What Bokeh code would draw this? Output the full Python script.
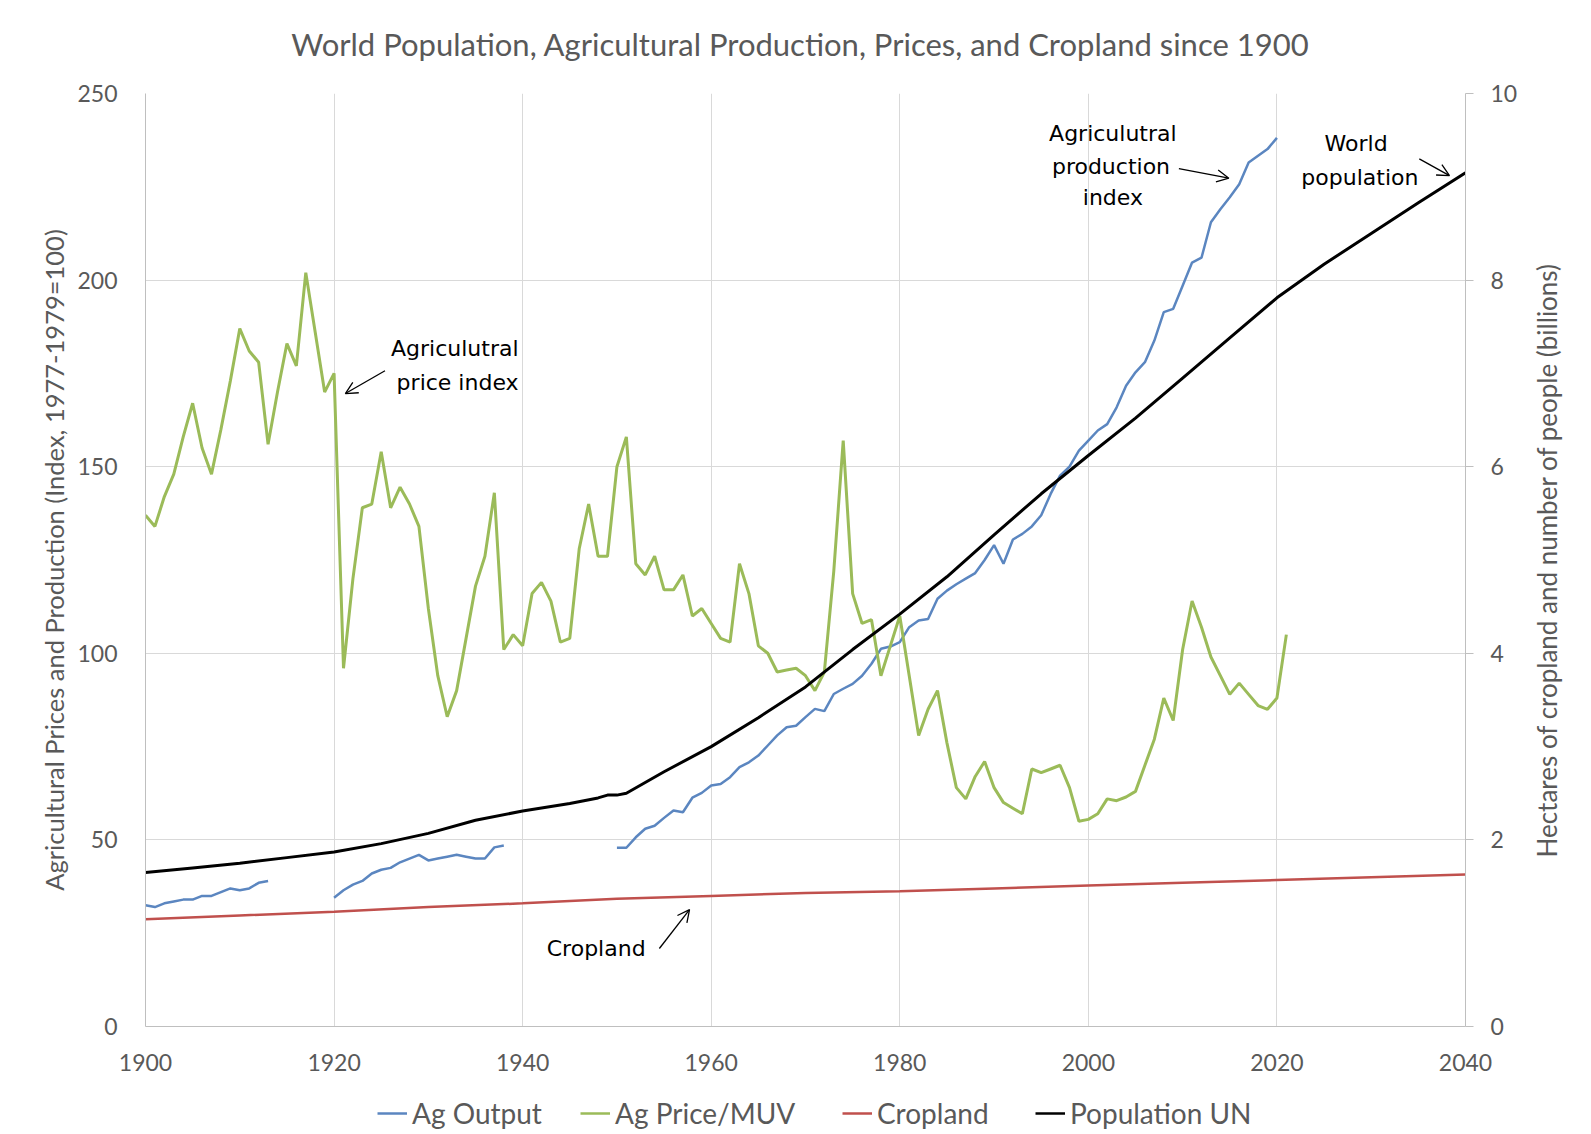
import math
from bokeh.plotting import figure
from bokeh.layouts import column, row
from bokeh.models import Range1d, LinearAxis, Legend, LegendItem, Label, Arrow, OpenHead, FixedTicker
from bokeh.embed import file_html
from bokeh.resources import INLINE

# ---------------- data ----------------
price_years = list(range(1900, 2022))
price = [137, 134, 142, 148, 158, 167, 155, 148, 160, 173,
         187, 181, 178, 156, 170, 183, 177, 202, 186, 170,
         175, 96, 120, 139, 140, 154, 139, 144.5, 140, 134,
         112, 94, 83, 90, 104, 118, 126, 143, 101, 105,
         102, 116, 119, 114, 103, 104, 128, 140, 126, 126,
         150, 158, 124, 121, 126, 117, 117, 121, 110, 112,
         108, 104, 103, 124, 116, 102, 100, 95, 95.5, 96,
         94, 90, 95, 122, 157, 116, 108, 109, 94, 102,
         110, 94, 78, 85, 90, 76, 64, 61, 67, 71,
         64, 60, 58.5, 57, 69, 68, 69, 70, 64, 55,
         55.5, 57, 61, 60.5, 61.5, 63, 70, 77, 88, 82,
         101, 114, 107, 99, 94, 89, 92, 89, 86, 85,
         88, 105]

out_years_1 = list(range(1900, 1914))
out_1 = [32.5, 32, 33, 33.5, 34, 34, 35, 35, 36, 37, 36.5, 37, 38.5, 39]

out_years_2 = list(range(1920, 1939))
out_2 = [34.5, 36.5, 38, 39, 41, 42, 42.5, 44, 45, 46,
         44.5, 45, 45.5, 46, 45.5, 45, 45, 48, 48.5]

out_years_3 = list(range(1950, 2021))
out_3 = [47.9, 47.9, 50.7, 53, 53.8, 55.9, 57.9, 57.4, 61.3, 62.6,
         64.6, 65, 66.8, 69.5, 70.8, 72.6, 75.3, 78, 80.2, 80.6,
         82.9, 85.1, 84.5, 89.1, 90.5, 91.8, 94, 97.2, 101.2, 101.8,
         103, 107, 108.8, 109.2, 114.6, 116.8, 118.5, 120, 121.5, 125,
         129, 124, 130.5, 132, 134, 137, 142.7, 147.6, 150, 154.3,
         157, 159.7, 161.4, 165.9, 171.7, 175.3, 178, 183.8, 191.4, 192.3,
         198.5, 204.7, 206, 215.5, 219, 222.2, 225.7, 231.5, 233.3, 235.1,
         238.1]

pop_years = [1900, 1905, 1910, 1915, 1920, 1925, 1930, 1935, 1940, 1945,
             1948, 1949, 1950, 1951, 1955, 1960, 1965, 1970, 1975, 1980,
             1985, 1990, 1995, 2000, 2005, 2010, 2015, 2020, 2025, 2030,
             2035, 2040]
pop = [1.65, 1.70, 1.75, 1.81, 1.87, 1.96, 2.07, 2.21, 2.31, 2.39,
       2.45, 2.48, 2.48, 2.50, 2.73, 3.00, 3.31, 3.64, 4.04, 4.42,
       4.82, 5.27, 5.71, 6.12, 6.52, 6.95, 7.38, 7.81, 8.17, 8.50,
       8.83, 9.15]

crop_years = [1900, 1910, 1920, 1930, 1940, 1950, 1960, 1970, 1980, 1990,
              2000, 2010, 2020, 2030, 2040]
crop = [1.15, 1.19, 1.23, 1.28, 1.32, 1.37, 1.40, 1.43, 1.45, 1.48,
        1.51, 1.54, 1.57, 1.60, 1.63]

x_ticks = [1900, 1920, 1940, 1960, 1980, 2000, 2020, 2040]
left_ticks = [0, 50, 100, 150, 200, 250]
right_ticks = [0, 2, 4, 6, 8, 10]

TITLE = "World Population, Agricultural Production, Prices, and Cropland since 1900"
LEFT_LABEL = "Agricultural Prices and Production (Index, 1977-1979=100)"
RIGHT_LABEL = "Hectares of cropland and number of people (billions)"
legend_labels = ["Ag Output", "Ag Price/MUV", "Cropland", "Population UN"]

BLUE = "#5B86C0"
GREEN = "#9BBB59"
RED = "#C0504D"
BLACK = "#000000"
GRAY_TXT = "#595959"
GRID = "#D9D9D9"
FONT = "Lato"
ANNO_FONT = "DejaVu Sans"

W = 1575
BL, BR_FULL = 145, 108          # frame left / right border in the full width
MAIN_W = 1520                   # main plot width (right label strip next to it)
TOP_H, MAIN_H, LEG_H = 70, 1020, 40


def strip(width, height, xr, yr, **borders):
    f = figure(width=width, height=height, x_range=xr, y_range=yr,
               output_backend="svg", toolbar_location=None,
               x_axis_location=None, y_axis_location=None, **borders)
    f.grid.visible = False
    f.outline_line_color = None
    f.title.text_font_size = "1px"
    f.title.standoff = 0
    return f

# ---------------- title strip ----------------
pt = strip(W, TOP_H, Range1d(BL, W - BR_FULL), Range1d(0, TOP_H),
           min_border_left=BL, min_border_right=BR_FULL, min_border_top=0, min_border_bottom=0)
pt.add_layout(Label(x=800, y=27, text=TITLE, text_align="center", text_baseline="middle",
                    text_font=FONT, text_font_size="31px", text_color=GRAY_TXT))

# ---------------- main figure ----------------
p = figure(width=MAIN_W, height=MAIN_H,
           x_range=Range1d(1900, 2040), y_range=Range1d(0, 250),
           output_backend="svg", toolbar_location=None,
           min_border_left=BL, min_border_right=MAIN_W - (W - BR_FULL),
           min_border_top=23, min_border_bottom=64)
p.extra_y_ranges = {"right": Range1d(0, 10)}
p.title.text_font_size = "1px"
p.title.standoff = 0

p.outline_line_color = None
p.xgrid.grid_line_color = GRID
p.ygrid.grid_line_color = GRID
p.xgrid.ticker = FixedTicker(ticks=x_ticks)
p.ygrid.ticker = FixedTicker(ticks=left_ticks)

xa = p.xaxis[0]
xa.ticker = FixedTicker(ticks=x_ticks)
xa.axis_line_color = "#BFBFBF"
xa.major_tick_out = 0
xa.major_tick_in = 0
xa.minor_tick_out = 0
xa.minor_tick_in = 0
xa.major_label_standoff = 27
xa.major_label_text_font = FONT
xa.major_label_text_font_size = "23px"
xa.major_label_text_color = GRAY_TXT

ya = p.yaxis[0]
ya.ticker = FixedTicker(ticks=left_ticks)
ya.axis_line_color = "#BFBFBF"
ya.major_tick_out = 0
ya.major_tick_in = 0
ya.minor_tick_out = 0
ya.minor_tick_in = 0
ya.major_label_standoff = 28
ya.major_label_text_font = FONT
ya.major_label_text_font_size = "23px"
ya.major_label_text_color = GRAY_TXT
ya.axis_label = LEFT_LABEL
ya.axis_label_text_font = FONT
ya.axis_label_text_font_size = "25.5px"
ya.axis_label_text_font_style = "normal"
ya.axis_label_text_color = GRAY_TXT
ya.axis_label_standoff = 5

ra = LinearAxis(y_range_name="right", ticker=FixedTicker(ticks=right_ticks))
ra.axis_line_color = "#BFBFBF"
ra.major_tick_line_color = "#BFBFBF"
ra.major_tick_out = 8
ra.major_tick_in = 0
ra.minor_tick_out = 0
ra.minor_tick_in = 0
ra.major_label_standoff = 17
ra.major_label_text_font = FONT
ra.major_label_text_font_size = "23px"
ra.major_label_text_color = GRAY_TXT
p.add_layout(ra, "right")

# ---------------- series ----------------
p.line(crop_years, crop, y_range_name="right", line_color=RED, line_width=2.5)
p.line(out_years_1, out_1, line_color=BLUE, line_width=2.5)
p.line(out_years_2, out_2, line_color=BLUE, line_width=2.5)
p.line(out_years_3, out_3, line_color=BLUE, line_width=2.5)
p.line(price_years, price, line_color=GREEN, line_width=3)
p.line(pop_years, pop, y_range_name="right", line_color=BLACK, line_width=3)

# ---------------- annotations ----------------
def note(x, y, txt):
    p.add_layout(Label(x=x, y=y, text=txt, text_align="center", text_baseline="middle",
                       text_font=ANNO_FONT, text_font_size="22px", text_color="black"))

def arrow(x0, y0, x1, y1):
    p.add_layout(Arrow(x_start=x0, y_start=y0, x_end=x1, y_end=y1,
                       line_color="black", line_width=1.3,
                       end=OpenHead(size=12, line_color="black", line_width=1.3)))

note(1932.8, 181.6, "Agriculutral")
note(1933.1, 172.5, "price index")
arrow(1925.4, 175.7, 1921.2, 169.6)

note(2002.6, 239.2, "Agriculutral")
note(2002.4, 230.4, "production")
note(2002.6, 222.1, "index")
arrow(2009.6, 229.9, 2014.9, 227.3)

note(2028.4, 236.5, "World")
note(2028.8, 227.4, "population")
arrow(2035.1, 232.5, 2038.3, 228.0)

note(1947.8, 20.9, "Cropland")
arrow(1954.5, 20.9, 1957.7, 31.3)

# ---------------- right axis title strip ----------------
RW = W - MAIN_W
pr = strip(RW, MAIN_H, Range1d(0, RW), Range1d(0, 250),
           min_border_left=0, min_border_right=0, min_border_top=23, min_border_bottom=64)
pr.add_layout(Label(x=RW / 2 - 1, y=125, text=RIGHT_LABEL, angle=math.pi / 2,
                    text_align="center", text_baseline="middle",
                    text_font=FONT, text_font_size="26px", text_color=GRAY_TXT))

# ---------------- legend strip ----------------
pl = strip(W, LEG_H, Range1d(BL, W - BR_FULL), Range1d(0, LEG_H),
           min_border_left=BL, min_border_right=BR_FULL, min_border_top=0, min_border_bottom=0)

legend_colors = [BLUE, GREEN, RED, BLACK]
legend_x = [377, 580, 842, 1035]
for lab, col, lx in zip(legend_labels, legend_colors, legend_x):
    r = pl.line(x=[-100, -99], y=[-100, -100], line_color=col, line_width=2.5)
    lg = Legend(items=[LegendItem(label=lab, renderers=[r])], location=(lx - BL, 0))
    lg.background_fill_alpha = 0
    lg.border_line_color = None
    lg.padding = 0
    lg.margin = 0
    lg.glyph_width = 30
    lg.label_standoff = 5
    lg.label_text_font = FONT
    lg.label_text_font_size = "28px"
    lg.label_text_color = GRAY_TXT
    pl.add_layout(lg, "center")

layout = column(pt, row(p, pr, spacing=0), pl, spacing=0)
open("out.html", "w").write(file_html(layout, INLINE))
